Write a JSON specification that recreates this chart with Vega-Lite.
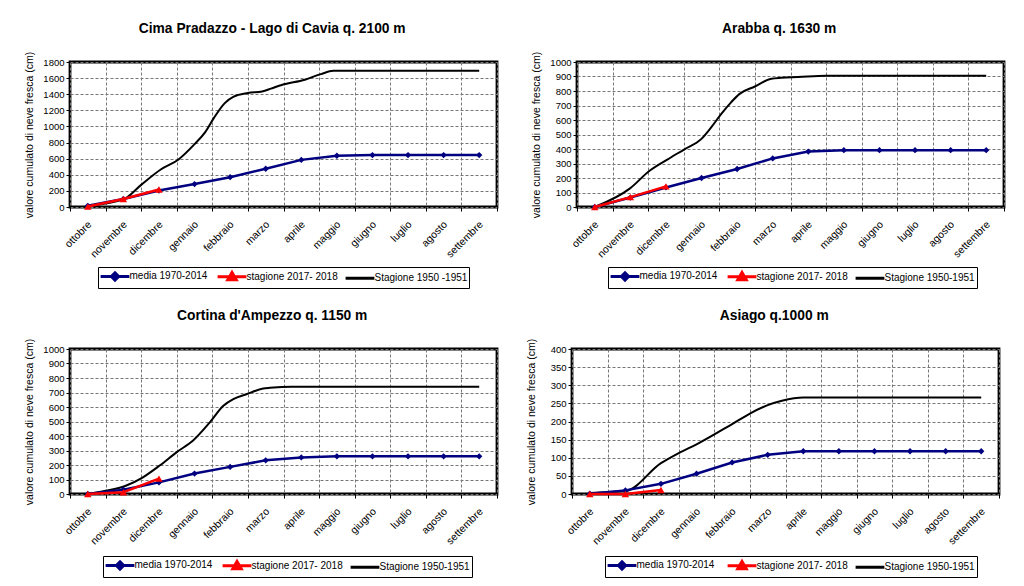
{
  "$schema": "https://vega.github.io/schema/vega-lite/v6.json",
  "background": "white",
  "padding": {"left": 22, "top": 20, "right": 0, "bottom": 0},
  "config": {
    "font": "Liberation Sans",
    "view": {"stroke": "black", "strokeWidth": 2.8},
    "axis": {"labelColor": "black", "titleColor": "black", "tickColor": "black", "domain": false, "gridColor": "#777777", "gridDash": [3, 2], "gridWidth": 1, "labelFont": "Liberation Sans", "titleFont": "Liberation Sans"},
    "axisX": {"values": [0,1,2,3,4,5,6,7,8,9,10,11], "grid": true, "tickSize": 4, "labelAngle": -45, "labelAlign": "right", "labelBaseline": "top", "labelOffset": 16, "labelPadding": 8, "labelFontSize": 10.5, "labelOverlap": false, "labelFlush": false, "labelBound": false,
      "labelExpr": "['ottobre','novembre','dicembre','gennaio','febbraio','marzo','aprile','maggio','giugno','luglio','agosto','settembre'][datum.value]"},
    "axisY": {"titleFontSize": 10.5, "titleFontWeight": "normal", "titlePadding": 4, "grid": true, "tickSize": 4, "labelPadding": 2, "labelFontSize": 9.5, "minExtent": 32, "maxExtent": 32, "format": "d"},
    "legend": {"labelFont": "Liberation Sans", "labelColor": "black", "title": null, "orient": "none", "direction": "horizontal", "strokeColor": "black", "padding": 1.5, "labelFontSize": 10, "symbolType": "stroke", "symbolSize": 144, "symbolStrokeWidth": 3, "symbolOffset": 8, "columnPadding": 1, "labelOffset": 7},
    "title": {"font": "Liberation Sans", "fontSize": 13.8, "fontWeight": "bold", "color": "black", "anchor": "middle", "frame": "bounds", "offset": 16}
  },
  "datasets": {
    "cima": [
      {"serie": "media  1970-2014", "mese": 0.5, "cm": 15},
      {"serie": "media  1970-2014", "mese": 1.5, "cm": 100},
      {"serie": "media  1970-2014", "mese": 2.5, "cm": 205},
      {"serie": "media  1970-2014", "mese": 3.5, "cm": 285},
      {"serie": "media  1970-2014", "mese": 4.5, "cm": 370},
      {"serie": "media  1970-2014", "mese": 5.5, "cm": 475},
      {"serie": "media  1970-2014", "mese": 6.5, "cm": 585},
      {"serie": "media  1970-2014", "mese": 7.5, "cm": 636},
      {"serie": "media  1970-2014", "mese": 8.5, "cm": 644},
      {"serie": "media  1970-2014", "mese": 9.5, "cm": 644},
      {"serie": "media  1970-2014", "mese": 10.5, "cm": 644},
      {"serie": "media  1970-2014", "mese": 11.5, "cm": 644},
      {"serie": "stagione 2017- 2018", "mese": 0.5, "cm": 5},
      {"serie": "stagione 2017- 2018", "mese": 1.5, "cm": 100},
      {"serie": "stagione 2017- 2018", "mese": 2.5, "cm": 218},
      {"serie": "Stagione 1950 -1951", "mese": 0.5, "cm": 15},
      {"serie": "Stagione 1950 -1951", "mese": 1.5, "cm": 95},
      {"serie": "Stagione 1950 -1951", "mese": 2.0, "cm": 275},
      {"serie": "Stagione 1950 -1951", "mese": 2.55, "cm": 465},
      {"serie": "Stagione 1950 -1951", "mese": 3.05, "cm": 590},
      {"serie": "Stagione 1950 -1951", "mese": 3.5, "cm": 780},
      {"serie": "Stagione 1950 -1951", "mese": 3.8, "cm": 930},
      {"serie": "Stagione 1950 -1951", "mese": 4.05, "cm": 1110},
      {"serie": "Stagione 1950 -1951", "mese": 4.35, "cm": 1290},
      {"serie": "Stagione 1950 -1951", "mese": 4.6, "cm": 1370},
      {"serie": "Stagione 1950 -1951", "mese": 5.0, "cm": 1415},
      {"serie": "Stagione 1950 -1951", "mese": 5.4, "cm": 1435},
      {"serie": "Stagione 1950 -1951", "mese": 5.65, "cm": 1470},
      {"serie": "Stagione 1950 -1951", "mese": 5.95, "cm": 1515},
      {"serie": "Stagione 1950 -1951", "mese": 6.6, "cm": 1580},
      {"serie": "Stagione 1950 -1951", "mese": 7.05, "cm": 1650},
      {"serie": "Stagione 1950 -1951", "mese": 7.4, "cm": 1690},
      {"serie": "Stagione 1950 -1951", "mese": 11.5, "cm": 1690}
    ],
    "arabba": [
      {"serie": "media  1970-2014", "mese": 0.5, "cm": 0},
      {"serie": "media  1970-2014", "mese": 1.5, "cm": 65},
      {"serie": "media  1970-2014", "mese": 2.5, "cm": 135},
      {"serie": "media  1970-2014", "mese": 3.5, "cm": 200},
      {"serie": "media  1970-2014", "mese": 4.5, "cm": 262},
      {"serie": "media  1970-2014", "mese": 5.5, "cm": 335},
      {"serie": "media  1970-2014", "mese": 6.5, "cm": 382},
      {"serie": "media  1970-2014", "mese": 7.5, "cm": 392},
      {"serie": "media  1970-2014", "mese": 8.5, "cm": 392},
      {"serie": "media  1970-2014", "mese": 9.5, "cm": 392},
      {"serie": "media  1970-2014", "mese": 10.5, "cm": 392},
      {"serie": "media  1970-2014", "mese": 11.5, "cm": 392},
      {"serie": "stagione 2017- 2018", "mese": 0.5, "cm": 0},
      {"serie": "stagione 2017- 2018", "mese": 1.5, "cm": 68},
      {"serie": "stagione 2017- 2018", "mese": 2.5, "cm": 142},
      {"serie": "Stagione 1950-1951", "mese": 0.5, "cm": 0},
      {"serie": "Stagione 1950-1951", "mese": 1.5, "cm": 130},
      {"serie": "Stagione 1950-1951", "mese": 2.03, "cm": 248},
      {"serie": "Stagione 1950-1951", "mese": 2.55, "cm": 329},
      {"serie": "Stagione 1950-1951", "mese": 3.02, "cm": 398},
      {"serie": "Stagione 1950-1951", "mese": 3.49, "cm": 468},
      {"serie": "Stagione 1950-1951", "mese": 3.77, "cm": 549},
      {"serie": "Stagione 1950-1951", "mese": 4.05, "cm": 641},
      {"serie": "Stagione 1950-1951", "mese": 4.33, "cm": 722},
      {"serie": "Stagione 1950-1951", "mese": 4.57, "cm": 780},
      {"serie": "Stagione 1950-1951", "mese": 5.0, "cm": 831},
      {"serie": "Stagione 1950-1951", "mese": 5.46, "cm": 884},
      {"serie": "Stagione 1950-1951", "mese": 5.74, "cm": 891},
      {"serie": "Stagione 1950-1951", "mese": 6.21, "cm": 896},
      {"serie": "Stagione 1950-1951", "mese": 7.0, "cm": 905},
      {"serie": "Stagione 1950-1951", "mese": 11.5, "cm": 905}
    ],
    "cortina": [
      {"serie": "media  1970-2014", "mese": 0.5, "cm": 0},
      {"serie": "media  1970-2014", "mese": 1.5, "cm": 30},
      {"serie": "media  1970-2014", "mese": 2.5, "cm": 80},
      {"serie": "media  1970-2014", "mese": 3.5, "cm": 141},
      {"serie": "media  1970-2014", "mese": 4.5, "cm": 187},
      {"serie": "media  1970-2014", "mese": 5.5, "cm": 232},
      {"serie": "media  1970-2014", "mese": 6.5, "cm": 252},
      {"serie": "media  1970-2014", "mese": 7.5, "cm": 260},
      {"serie": "media  1970-2014", "mese": 8.5, "cm": 260},
      {"serie": "media  1970-2014", "mese": 9.5, "cm": 260},
      {"serie": "media  1970-2014", "mese": 10.5, "cm": 260},
      {"serie": "media  1970-2014", "mese": 11.5, "cm": 260},
      {"serie": "stagione 2017- 2018", "mese": 0.5, "cm": 0},
      {"serie": "stagione 2017- 2018", "mese": 1.5, "cm": 12},
      {"serie": "stagione 2017- 2018", "mese": 2.5, "cm": 106},
      {"serie": "Stagione 1950-1951", "mese": 0.5, "cm": 0},
      {"serie": "Stagione 1950-1951", "mese": 1.0, "cm": 22},
      {"serie": "Stagione 1950-1951", "mese": 1.55, "cm": 55},
      {"serie": "Stagione 1950-1951", "mese": 2.05, "cm": 115},
      {"serie": "Stagione 1950-1951", "mese": 2.53, "cm": 198},
      {"serie": "Stagione 1950-1951", "mese": 3.0, "cm": 289},
      {"serie": "Stagione 1950-1951", "mese": 3.46, "cm": 369},
      {"serie": "Stagione 1950-1951", "mese": 3.93, "cm": 494},
      {"serie": "Stagione 1950-1951", "mese": 4.31, "cm": 608},
      {"serie": "Stagione 1950-1951", "mese": 4.59, "cm": 654},
      {"serie": "Stagione 1950-1951", "mese": 4.96, "cm": 688},
      {"serie": "Stagione 1950-1951", "mese": 5.43, "cm": 727},
      {"serie": "Stagione 1950-1951", "mese": 5.62, "cm": 732},
      {"serie": "Stagione 1950-1951", "mese": 6.23, "cm": 740},
      {"serie": "Stagione 1950-1951", "mese": 11.5, "cm": 740}
    ],
    "asiago": [
      {"serie": "media   1970-2014", "mese": 0.5, "cm": 1},
      {"serie": "media   1970-2014", "mese": 1.5, "cm": 10},
      {"serie": "media   1970-2014", "mese": 2.5, "cm": 28},
      {"serie": "media   1970-2014", "mese": 3.5, "cm": 56},
      {"serie": "media   1970-2014", "mese": 4.5, "cm": 87},
      {"serie": "media   1970-2014", "mese": 5.5, "cm": 108},
      {"serie": "media   1970-2014", "mese": 6.5, "cm": 118},
      {"serie": "media   1970-2014", "mese": 7.5, "cm": 118},
      {"serie": "media   1970-2014", "mese": 8.5, "cm": 118},
      {"serie": "media   1970-2014", "mese": 9.5, "cm": 118},
      {"serie": "media   1970-2014", "mese": 10.5, "cm": 118},
      {"serie": "media   1970-2014", "mese": 11.5, "cm": 118},
      {"serie": "stagione 2017- 2018", "mese": 0.5, "cm": 0},
      {"serie": "stagione 2017- 2018", "mese": 1.5, "cm": 0},
      {"serie": "stagione 2017- 2018", "mese": 2.5, "cm": 11},
      {"serie": "Stagione 1950-1951", "mese": 0.5, "cm": 3},
      {"serie": "Stagione 1950-1951", "mese": 1.5, "cm": 8},
      {"serie": "Stagione 1950-1951", "mese": 2.5, "cm": 85},
      {"serie": "Stagione 1950-1951", "mese": 3.0, "cm": 113},
      {"serie": "Stagione 1950-1951", "mese": 3.5, "cm": 137},
      {"serie": "Stagione 1950-1951", "mese": 4.5, "cm": 193},
      {"serie": "Stagione 1950-1951", "mese": 5.0, "cm": 222},
      {"serie": "Stagione 1950-1951", "mese": 5.5, "cm": 245},
      {"serie": "Stagione 1950-1951", "mese": 5.9, "cm": 257},
      {"serie": "Stagione 1950-1951", "mese": 6.5, "cm": 266},
      {"serie": "Stagione 1950-1951", "mese": 11.5, "cm": 266}
    ]
  },
  "resolve": {"scale": {"color": "independent"}, "legend": {"color": "independent"}},
  "spacing": 17,
  "vconcat": [
    {
      "spacing": 7,
      "resolve": {"scale": {"color": "independent"}, "legend": {"color": "independent"}},
      "hconcat": [
        {
          "title": "Cima Pradazzo - Lago di Cavia q. 2100 m",
          "width": 427, "height": 145,
          "data": {"name": "cima"},
          "encoding": {
            "x": {"field": "mese", "type": "quantitative", "title": null, "scale": {"domain": [0, 12], "nice": false, "zero": false}},
            "y": {"field": "cm", "type": "quantitative", "title": "valore cumulato di neve fresca (cm)", "scale": {"domain": [0, 1800], "nice": false}, "axis": {"values": [0,200,400,600,800,1000,1200,1400,1600,1800]}},
            "color": {"field": "serie", "type": "nominal",
              "scale": {"domain": ["media  1970-2014", "stagione 2017- 2018", "Stagione 1950 -1951"], "range": ["#000080", "#ff0000", "#000000"]},
              "legend": {"legendX": 28, "legendY": 205, "encode": {"symbols": {"update": {
                  "shape": {"signal": "indexof(datum.value, 'media') === 0 ? 'M-2.4,0H2.4M0,-0.6L0.6,0L0,0.6L-0.6,0Z' : indexof(datum.value, 'stagione') === 0 ? 'M-2.4,0H2.4M0,-0.7L0.7,0.5L-0.7,0.5Z' : 'M-2.4,0H2.4'"},
                  "fill": {"signal": "indexof(datum.value, 'media') === 0 ? '#000080' : indexof(datum.value, 'stagione') === 0 ? '#ff0000' : 'transparent'"}}}}}}
          },
          "layer": [
            {"transform": [{"filter": "datum.serie === 'Stagione 1950 -1951'"}], "mark": {"type": "line", "strokeWidth": 2, "interpolate": "monotone"}},
            {"transform": [{"filter": "datum.serie === 'media  1970-2014'"}], "mark": {"type": "line", "strokeWidth": 2.5, "point": {"shape": "diamond", "size": 40, "filled": true}}},
            {"transform": [{"filter": "datum.serie === 'stagione 2017- 2018'"}], "mark": {"type": "line", "strokeWidth": 2.5, "point": {"shape": "triangle-up", "size": 55, "filled": true}}}
          ]
        },
        {
          "title": "Arabba q. 1630 m",
          "width": 427, "height": 145,
          "data": {"name": "arabba"},
          "encoding": {
            "x": {"field": "mese", "type": "quantitative", "title": null, "scale": {"domain": [0, 12], "nice": false, "zero": false}},
            "y": {"field": "cm", "type": "quantitative", "title": "valore cumulato di neve fresca (cm)", "scale": {"domain": [0, 1000], "nice": false}, "axis": {"values": [0,100,200,300,400,500,600,700,800,900,1000]}},
            "color": {"field": "serie", "type": "nominal",
              "scale": {"domain": ["media  1970-2014", "stagione 2017- 2018", "Stagione 1950-1951"], "range": ["#000080", "#ff0000", "#000000"]},
              "legend": {"legendX": 31, "legendY": 205, "encode": {"symbols": {"update": {
                  "shape": {"signal": "indexof(datum.value, 'media') === 0 ? 'M-2.4,0H2.4M0,-0.6L0.6,0L0,0.6L-0.6,0Z' : indexof(datum.value, 'stagione') === 0 ? 'M-2.4,0H2.4M0,-0.7L0.7,0.5L-0.7,0.5Z' : 'M-2.4,0H2.4'"},
                  "fill": {"signal": "indexof(datum.value, 'media') === 0 ? '#000080' : indexof(datum.value, 'stagione') === 0 ? '#ff0000' : 'transparent'"}}}}}}
          },
          "layer": [
            {"transform": [{"filter": "datum.serie === 'Stagione 1950-1951'"}], "mark": {"type": "line", "strokeWidth": 2, "interpolate": "monotone"}},
            {"transform": [{"filter": "datum.serie === 'media  1970-2014'"}], "mark": {"type": "line", "strokeWidth": 2.5, "point": {"shape": "diamond", "size": 40, "filled": true}}},
            {"transform": [{"filter": "datum.serie === 'stagione 2017- 2018'"}], "mark": {"type": "line", "strokeWidth": 2.5, "point": {"shape": "triangle-up", "size": 55, "filled": true}}}
          ]
        }
      ]
    },
    {
      "spacing": 2,
      "resolve": {"scale": {"color": "independent"}, "legend": {"color": "independent"}},
      "hconcat": [
        {
          "title": "Cortina d'Ampezzo q. 1150 m",
          "width": 427, "height": 145,
          "data": {"name": "cortina"},
          "encoding": {
            "x": {"field": "mese", "type": "quantitative", "title": null, "scale": {"domain": [0, 12], "nice": false, "zero": false}},
            "y": {"field": "cm", "type": "quantitative", "title": "valore cumulato di neve fresca (cm)", "scale": {"domain": [0, 1000], "nice": false}, "axis": {"values": [0,100,200,300,400,500,600,700,800,900,1000]}},
            "color": {"field": "serie", "type": "nominal",
              "scale": {"domain": ["media  1970-2014", "stagione 2017- 2018", "Stagione 1950-1951"], "range": ["#000080", "#ff0000", "#000000"]},
              "legend": {"legendX": 33, "legendY": 207, "encode": {"symbols": {"update": {
                  "shape": {"signal": "indexof(datum.value, 'media') === 0 ? 'M-2.4,0H2.4M0,-0.6L0.6,0L0,0.6L-0.6,0Z' : indexof(datum.value, 'stagione') === 0 ? 'M-2.4,0H2.4M0,-0.7L0.7,0.5L-0.7,0.5Z' : 'M-2.4,0H2.4'"},
                  "fill": {"signal": "indexof(datum.value, 'media') === 0 ? '#000080' : indexof(datum.value, 'stagione') === 0 ? '#ff0000' : 'transparent'"}}}}}}
          },
          "layer": [
            {"transform": [{"filter": "datum.serie === 'Stagione 1950-1951'"}], "mark": {"type": "line", "strokeWidth": 2, "interpolate": "monotone"}},
            {"transform": [{"filter": "datum.serie === 'media  1970-2014'"}], "mark": {"type": "line", "strokeWidth": 2.5, "point": {"shape": "diamond", "size": 40, "filled": true}}},
            {"transform": [{"filter": "datum.serie === 'stagione 2017- 2018'"}], "mark": {"type": "line", "strokeWidth": 2.5, "point": {"shape": "triangle-up", "size": 55, "filled": true}}}
          ]
        },
        {
          "title": "Asiago q.1000 m",
          "width": 427, "height": 145,
          "data": {"name": "asiago"},
          "encoding": {
            "x": {"field": "mese", "type": "quantitative", "title": null, "scale": {"domain": [0, 12], "nice": false, "zero": false}},
            "y": {"field": "cm", "type": "quantitative", "title": "valore cumulato di neve fresca (cm)", "scale": {"domain": [0, 400], "nice": false}, "axis": {"values": [0,50,100,150,200,250,300,350,400]}},
            "color": {"field": "serie", "type": "nominal",
              "scale": {"domain": ["media   1970-2014", "stagione 2017- 2018", "Stagione 1950-1951"], "range": ["#000080", "#ff0000", "#000000"]},
              "legend": {"legendX": 33, "legendY": 207, "encode": {"symbols": {"update": {
                  "shape": {"signal": "indexof(datum.value, 'media') === 0 ? 'M-2.4,0H2.4M0,-0.6L0.6,0L0,0.6L-0.6,0Z' : indexof(datum.value, 'stagione') === 0 ? 'M-2.4,0H2.4M0,-0.7L0.7,0.5L-0.7,0.5Z' : 'M-2.4,0H2.4'"},
                  "fill": {"signal": "indexof(datum.value, 'media') === 0 ? '#000080' : indexof(datum.value, 'stagione') === 0 ? '#ff0000' : 'transparent'"}}}}}}
          },
          "layer": [
            {"transform": [{"filter": "datum.serie === 'Stagione 1950-1951'"}], "mark": {"type": "line", "strokeWidth": 2, "interpolate": "monotone"}},
            {"transform": [{"filter": "datum.serie === 'media   1970-2014'"}], "mark": {"type": "line", "strokeWidth": 2.5, "point": {"shape": "diamond", "size": 40, "filled": true}}},
            {"transform": [{"filter": "datum.serie === 'stagione 2017- 2018'"}], "mark": {"type": "line", "strokeWidth": 2.5, "point": {"shape": "triangle-up", "size": 55, "filled": true}}}
          ]
        }
      ]
    }
  ]
}
